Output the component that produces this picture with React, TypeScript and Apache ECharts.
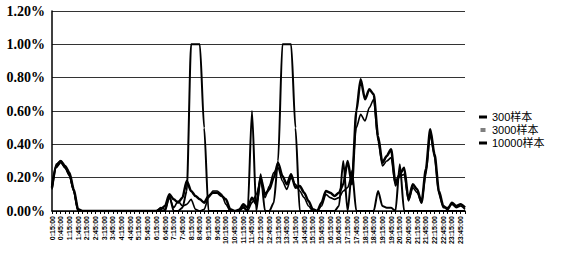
import React, { useEffect, useRef } from "react";
import * as echarts from "echarts";

// time categories: 0:15:00 ... 23:45:00, 0:00:00 (15-minute steps)
const times: string[] = [];
for (let k = 0; k < 96; k++) {
  const m = 15 + 15 * k;
  const h = Math.floor(m / 60) % 24;
  const mm = m % 60;
  times.push(`${h}:${mm < 10 ? "0" + mm : mm}:00`);
}

const seriesNames = ["300样本", "3000样本", "10000样本"];

const s300 = [
  0.15, 0.28, 0.30, 0.26, 0.22, 0.12, 0.0, 0, 0, 0,
  0, 0, 0, 0, 0, 0, 0, 0, 0, 0,
  0, 0, 0, 0, 0, 0, 0, 0.09, 0, 0,
  0.02, 0.12, 1.0, 1.0, 1.0, 0.5, 0, 0, 0, 0,
  0, 0, 0, 0, 0.02, 0, 0.60, 0, 0.22, 0,
  0, 0.05, 0.3, 1.0, 1.0, 1.0, 0.5, 0, 0, 0,
  0, 0, 0, 0, 0, 0, 0.03, 0.30, 0, 0.24,
  0, 0, 0, 0, 0, 0.12, 0.03, 0.02, 0.02, 0,
  0.28, 0, 0, 0, 0, 0, 0, 0, 0, 0,
  0, 0, 0, 0, 0, 0,
];

const s3000 = [
  0.14, 0.27, 0.30, 0.27, 0.23, 0.13, 0.01, 0, 0, 0,
  0, 0, 0, 0, 0, 0, 0, 0, 0, 0,
  0, 0, 0, 0, 0, 0.01, 0.03, 0.10, 0.07, 0.05,
  0.08, 0.18, 0.12, 0.09, 0.07, 0.05, 0.09, 0.11, 0.11, 0.09,
  0.07, 0.01, 0, 0, 0.04, 0.02, 0.08, 0.04, 0.20, 0.10,
  0.13, 0.20, 0.29, 0.21, 0.16, 0.22, 0.14, 0.15, 0.11, 0.06,
  0.01, 0, 0.05, 0.12, 0.11, 0.09, 0.11, 0.16, 0.30, 0.16,
  0.60, 0.79, 0.67, 0.73, 0.70, 0.45, 0.29, 0.33, 0.37, 0.17,
  0.22, 0.26, 0.07, 0.16, 0.13, 0.05, 0.25, 0.49, 0.34, 0.12,
  0.03, 0.01, 0.05, 0.03, 0.04, 0.02,
];

const s10000 = [
  0.13, 0.26, 0.29, 0.26, 0.21, 0.12, 0.0, 0, 0, 0,
  0, 0, 0, 0, 0, 0, 0, 0, 0, 0,
  0, 0, 0, 0, 0, 0.02, 0.01, 0.08, 0.02, 0.06,
  0.03, 0.04, 0.07, 0.01, 0, 0.01, 0.08, 0.12, 0.12, 0.10,
  0.04, 0, 0, 0.01, 0.03, 0, 0.05, 0.10, 0.18, 0.08,
  0.15, 0.23, 0.26, 0.18, 0.13, 0.20, 0.16, 0.12, 0.08, 0.03,
  0, 0, 0.03, 0.10, 0.08, 0.07, 0.08, 0.12, 0.14, 0.22,
  0.50, 0.58, 0.54, 0.62, 0.67, 0.42, 0.27, 0.30, 0.32, 0.15,
  0.21, 0.22, 0.06, 0.14, 0.11, 0.05, 0.22, 0.46, 0.32, 0.10,
  0.02, 0.02, 0.04, 0.02, 0.03, 0.01,
];

const yTicks = [0, 0.2, 0.4, 0.6, 0.8, 1.0, 1.2];

export default function App() {
  const ref = useRef<HTMLDivElement>(null);
  useEffect(() => {
    if (!ref.current) return;
    const chart = echarts.init(ref.current, undefined, { renderer: "svg" });
    const lineSeries = (name: string, data: number[], width: number) => ({
      name,
      type: "line",
      data,
      smooth: 0.25,
      smoothMonotone: "x",
      symbol: "none",
      lineStyle: { color: "#000", width },
      itemStyle: { color: "#000" },
    });
    chart.setOption({
      animation: false,
      backgroundColor: "#fff",
      grid: { left: 52, right: 101, top: 11, bottom: 50, containLabel: false },
      legend: {
        orient: "vertical",
        left: 474,
        top: 106,
        itemWidth: 8,
        itemHeight: 3,
        itemGap: 1,
        textStyle: {
          fontFamily: "'Liberation Sans', 'Noto Sans CJK SC', sans-serif",
          fontSize: 11,
          color: "#000",
          lineHeight: 12,
        },
        data: [
          { name: seriesNames[0], icon: "rect" },
          { name: seriesNames[1], icon: "path://M0,0H10V2H0Z M0,4H10V6H0Z" },
          { name: seriesNames[2], icon: "rect" },
        ],
      },
      xAxis: {
        type: "category",
        data: times,
        boundaryGap: false,
        axisLine: { show: true, lineStyle: { color: "#000", width: 1.5 } },
        axisTick: { show: true, interval: 0, length: 3, lineStyle: { color: "#000" } },
        axisLabel: {
          interval: 1,
          rotate: 90,
          fontSize: 7,
          fontWeight: "bold",
          fontFamily: "'Liberation Sans', sans-serif",
          color: "#000",
          margin: 5,
        },
        splitLine: { show: false },
      },
      yAxis: {
        type: "value",
        min: yTicks[0],
        max: yTicks[yTicks.length - 1],
        interval: 0.2,
        axisLine: { show: true, lineStyle: { color: "#000", width: 1.5 } },
        axisTick: { show: false },
        axisLabel: {
          formatter: (v: number) => v.toFixed(2) + "%",
          fontSize: 14,
          fontWeight: "bold",
          fontFamily: "'Liberation Serif', serif",
          color: "#000",
          margin: 7,
        },
        splitLine: { show: true, lineStyle: { color: "#333", width: 1 } },
      },
      series: [
        lineSeries(seriesNames[0], s300, 2),
        lineSeries(seriesNames[1], s3000, 2.5),
        lineSeries(seriesNames[2], s10000, 1.6),
      ],
    });
    return () => chart.dispose();
  }, []);
  return (
    <div
      ref={ref}
      style={{ position: "fixed", left: 0, top: 0, width: 566, height: 261, background: "#fff" }}
    />
  );
}
